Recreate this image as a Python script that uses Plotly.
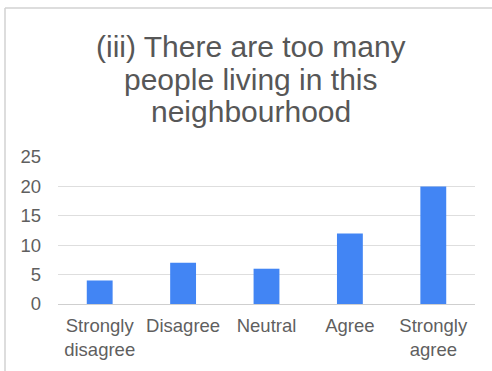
import plotly.graph_objects as go

categories = ["Strongly<br>disagree", "Disagree", "Neutral", "Agree", "Strongly<br>agree"]
counts = [4, 7, 6, 12, 20]
y_ticks = [0, 5, 10, 15, 20, 25]
title_lines = ["(iii) There are too many", "people living in this", "neighbourhood"]

W, H = 492, 371
L, R, T, B = 58, 17, 157, 67
pw, ph = W - L - R, H - T - B


def px_x(x):
    return (x - L) / pw


def px_y(y):
    return (H - B - y) / ph


fig = go.Figure(go.Bar(
    x=categories, y=counts,
    marker=dict(color="#4285F4", line=dict(width=0)),
    width=0.31,
))

fig.update_layout(
    width=W, height=H,
    margin=dict(l=L, r=R, t=T, b=B),
    paper_bgcolor="white", plot_bgcolor="white",
    showlegend=False,
    font=dict(family="Liberation Sans, Arial, sans-serif", color="#5f5f5f"),
    xaxis=dict(
        showgrid=False, showline=False, zeroline=False,
        tickfont=dict(size=18.5, color="#5f5f5f"),
        ticks="", ticklen=0, ticklabelstandoff=8,
    ),
    yaxis=dict(
        range=[0, 25], tickvals=y_ticks,
        showgrid=True, gridcolor="#dedede", gridwidth=1,
        zeroline=True, zerolinecolor="#cfcfcf", zerolinewidth=1,
        showline=False, ticks="",
        tickfont=dict(size=18.5, color="#5f5f5f"),
        ticklabelstandoff=16,
    ),
    bargap=0.69,
)

# Three-line heading, set tighter than the default line height
for line, cy in zip(title_lines, [46, 79, 111]):
    fig.add_annotation(
        text=line, xref="paper", yref="paper",
        x=px_x(251), y=px_y(cy), xanchor="center", yanchor="middle",
        showarrow=False, font=dict(size=30, color="#575757"),
    )

# Frame around the chart card (left and top edges)
fig.add_shape(type="line", xref="paper", yref="paper",
              x0=px_x(5), x1=px_x(5), y0=px_y(8), y1=px_y(H + 5),
              line=dict(color="#d2d2d2", width=1.5))
fig.add_shape(type="line", xref="paper", yref="paper",
              x0=px_x(5), x1=px_x(W + 5), y0=px_y(8), y1=px_y(8),
              line=dict(color="#d2d2d2", width=1.5))

fig.write_html("out.html")
